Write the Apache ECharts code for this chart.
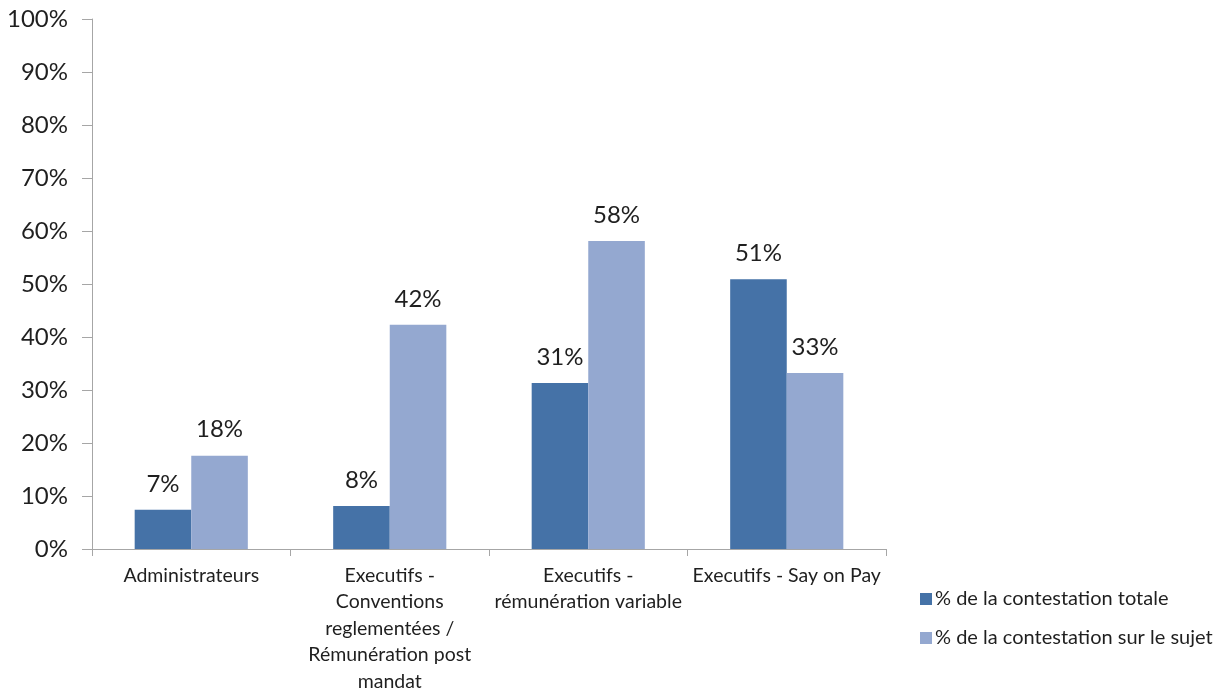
<!DOCTYPE html>
<html>
<head>
<meta charset="utf-8">
<script src="https://cdn.jsdelivr.net/npm/echarts@6/dist/echarts.min.js"></script>
<style>
  html, body { margin: 0; padding: 0; background: #fff; }
  #chart { width: 1219px; height: 688px; }
</style>
</head>
<body>
<div id="chart"></div>
<script>
// Categories (line breaks kept as in the axis labels)
const categories = [
  'Administrateurs',
  'Executifs -\nConventions\nreglementées /\nRémunération post\nmandat',
  'Executifs -\nrémunération variable',
  'Executifs - Say on Pay'
];
const seriesNames = ['% de la contestation totale', '% de la contestation sur le sujet'];
const totalValues = [7.4, 8.1, 31.3, 50.9];
const subjectValues = [17.6, 42.3, 58.1, 33.2];
const yTicks = [0, 10, 20, 30, 40, 50, 60, 70, 80, 90, 100];

const FONT = 'Lato, "Open Sans", sans-serif';
const TEXT = '#1f1f1f';
const AXIS = '#a6a6a6';

const chart = echarts.init(document.getElementById('chart'));

const labelCfg = {
  show: true,
  position: 'top',
  distance: 14,
  fontFamily: FONT,
  fontSize: 24,
  color: TEXT,
  formatter: p => Math.round(p.value) + '%'
};

chart.setOption({
  animation: false,
  backgroundColor: '#ffffff',
  grid: { left: 92, right: 333, top: 19, bottom: 139, containLabel: false, outerBoundsMode: 'none' },
  legend: {
    orient: 'vertical',
    left: 915,
    top: 584,
    itemWidth: 12,
    itemHeight: 12,
    itemGap: 19,
    icon: 'rect',
    textStyle: { fontFamily: FONT, fontSize: 20, color: TEXT, padding: [0, 0, 0, -2] },
    data: seriesNames
  },
  xAxis: {
    type: 'category',
    data: categories,
    axisLine: { lineStyle: { color: AXIS, width: 1 } },
    axisTick: { show: true, length: 7, alignWithLabel: false, lineStyle: { color: AXIS } },
    axisLabel: {
      interval: 0,
      margin: 13,
      fontFamily: FONT,
      fontSize: 19.5,
      lineHeight: 26.5,
      color: TEXT,
      align: 'center'
    }
  },
  yAxis: {
    type: 'value',
    min: 0,
    max: 100,
    interval: 10,
    axisLine: { show: true, lineStyle: { color: AXIS, width: 1 } },
    axisTick: { show: true, length: 10, inside: false, lineStyle: { color: AXIS } },
    splitLine: { show: false },
    axisLabel: {
      margin: 24,
      fontFamily: FONT,
      fontSize: 24,
      color: TEXT,
      formatter: v => (yTicks.includes(v) ? v + '%' : '')
    }
  },
  series: [
    {
      name: seriesNames[0],
      type: 'bar',
      data: totalValues,
      barGap: '0%',
      barCategoryGap: '43%',
      itemStyle: { color: '#4572a7' },
      label: labelCfg
    },
    {
      name: seriesNames[1],
      type: 'bar',
      data: subjectValues,
      barGap: '0%',
      barCategoryGap: '43%',
      itemStyle: { color: '#94a8d0' },
      label: labelCfg
    }
  ]
});
</script>
</body>
</html>
